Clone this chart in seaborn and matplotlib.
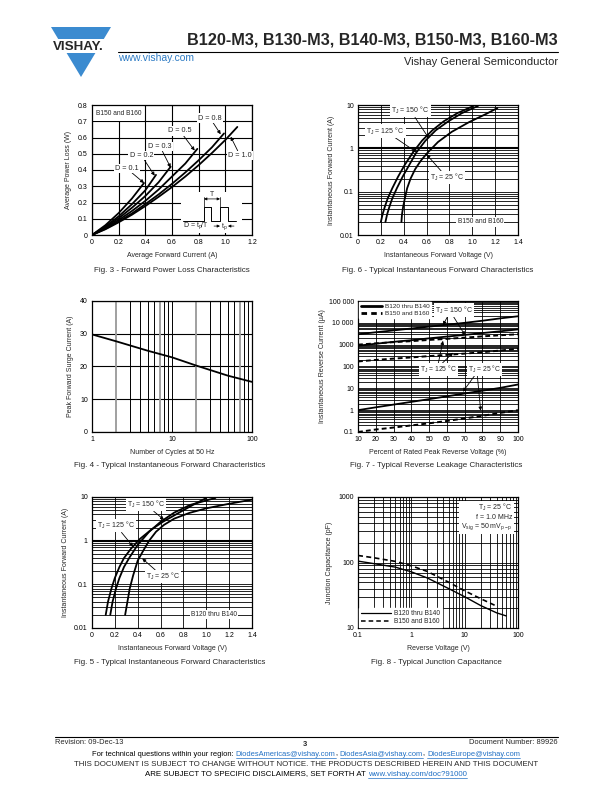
import numpy as np
import pandas as pd
import matplotlib
matplotlib.use('Agg')
import matplotlib.pyplot as plt
import seaborn as sns
from matplotlib.lines import Line2D
from matplotlib.patches import Polygon, Rectangle

sns.set_style('white')
plt.rcParams['font.family'] = ['Liberation Sans', 'DejaVu Sans']
plt.rcParams['mathtext.fontset'] = 'custom'
plt.rcParams['mathtext.rm'] = 'Liberation Sans'
plt.rcParams['mathtext.it'] = 'Liberation Sans'
plt.rcParams['axes.unicode_minus'] = False

# ---------------- data ----------------
# Fig 3 - power loss vs average forward current, per duty cycle D
d_labels = ['D = 0.1', 'D = 0.2', 'D = 0.3', 'D = 0.5', 'D = 0.8', 'D = 1.0']
d01_x = [0, 0.1, 0.2, 0.3, 0.39]
d01_y = [0, 0.06, 0.135, 0.225, 0.32]
d02_x = [0, 0.1, 0.2, 0.3, 0.4, 0.48]
d02_y = [0, 0.052, 0.115, 0.19, 0.275, 0.37]
d03_x = [0, 0.1, 0.2, 0.3, 0.4, 0.5, 0.59]
d03_y = [0, 0.047, 0.103, 0.168, 0.24, 0.325, 0.42]
d05_x = [0, 0.1, 0.2, 0.3, 0.4, 0.5, 0.6, 0.7, 0.79]
d05_y = [0, 0.042, 0.092, 0.148, 0.21, 0.28, 0.36, 0.44, 0.53]
d08_x = [0, 0.1, 0.2, 0.3, 0.4, 0.5, 0.6, 0.7, 0.8, 0.9, 0.99]
d08_y = [0, 0.038, 0.083, 0.133, 0.19, 0.25, 0.315, 0.385, 0.46, 0.54, 0.625]
d10_x = [0, 0.1, 0.2, 0.3, 0.4, 0.5, 0.6, 0.7, 0.8, 0.9, 1.0, 1.09]
d10_y = [0, 0.035, 0.078, 0.125, 0.178, 0.235, 0.295, 0.36, 0.43, 0.505, 0.585, 0.665]

# Fig 6 - forward characteristics B150/B160
f6_150_x = [0.20, 0.215, 0.235, 0.26, 0.30, 0.35, 0.41, 0.48, 0.56, 0.65, 0.75, 0.87, 1.01]
f6_150_y = [0.02, 0.03, 0.045, 0.07, 0.12, 0.22, 0.42, 0.8, 1.5, 2.6, 4.2, 6.5, 9.5]
f6_125_x = [0.24, 0.255, 0.275, 0.30, 0.34, 0.39, 0.45, 0.51, 0.59, 0.68, 0.79, 0.91, 1.05]
f6_125_y = [0.02, 0.03, 0.045, 0.07, 0.12, 0.22, 0.42, 0.8, 1.5, 2.6, 4.2, 6.5, 9.5]
f6_25_x = [0.38, 0.385, 0.395, 0.41, 0.43, 0.46, 0.50, 0.55, 0.61, 0.70, 0.82, 0.97, 1.12, 1.22]
f6_25_y = [0.02, 0.03, 0.045, 0.07, 0.12, 0.2, 0.33, 0.52, 0.8, 1.4, 2.4, 4.0, 6.2, 8.5]

# Fig 4 - peak forward surge current vs cycles
f4_cycles = [1, 2, 5, 10, 20, 50, 100]
f4_amps = [29.8, 27.7, 24.8, 22.8, 20.3, 17.2, 15.3]

# Fig 7 - reverse leakage
f7_pct = [10, 20, 30, 40, 50, 60, 70, 80, 90, 100]
f7_s150 = [3000, 3700, 4500, 5500, 6700, 8200, 10000, 12500, 16000, 20000]
f7_s125 = [900, 1100, 1350, 1600, 1950, 2350, 2800, 3400, 4100, 5000]
f7_d150 = [1000, 1150, 1300, 1450, 1650, 1850, 2100, 2400, 2700, 3000]
f7_d125 = [170, 200, 230, 260, 300, 340, 390, 450, 540, 650]
f7_s25 = [1.0, 1.35, 1.8, 2.4, 3.2, 4.3, 5.8, 7.8, 10.5, 15]
f7_d25 = [0.10, 0.13, 0.16, 0.20, 0.25, 0.32, 0.42, 0.55, 0.75, 1.0]

# Fig 5 - forward characteristics B120..B140
f5_150_x = [0.12, 0.14, 0.17, 0.2, 0.24, 0.28, 0.34, 0.42, 0.52, 0.62, 0.75, 0.87, 1.0]
f5_150_y = [0.02, 0.04, 0.08, 0.14, 0.25, 0.4, 0.65, 1.1, 1.8, 2.7, 4.2, 6.3, 9.5]
f5_125_x = [0.16, 0.18, 0.21, 0.24, 0.28, 0.33, 0.4, 0.5, 0.6, 0.72, 0.86, 1.08]
f5_125_y = [0.02, 0.04, 0.08, 0.14, 0.25, 0.42, 0.8, 1.6, 2.7, 4.4, 6.6, 9.5]
f5_25_x = [0.29, 0.31, 0.33, 0.36, 0.4, 0.45, 0.5, 0.56, 0.63, 0.72, 0.85, 1.0, 1.2, 1.4]
f5_25_y = [0.02, 0.04, 0.08, 0.16, 0.35, 0.6, 1.0, 1.6, 2.3, 3.2, 4.3, 5.5, 7.0, 8.7]

# Fig 8 - junction capacitance
f8_s_v = [0.1, 0.2, 0.5, 1, 2, 5, 10, 20, 40, 60]
f8_s_c = [105, 96, 85, 72, 58, 40, 30, 22, 17, 15.3]
f8_d_v = [0.1, 0.2, 0.5, 1, 2, 5, 10, 20, 40]
f8_d_c = [128, 118, 104, 89, 73, 50, 37, 28, 21.5]

# ---------------- layout ----------------
W, H = 612, 792
fig = plt.figure(figsize=(W / 100, H / 100), dpi=100)


def rect(l, r, t, b):
    return [l / W, 1 - b / H, (r - l) / W, (b - t) / H]


def P(x, y):
    return (x / W, 1 - y / H)


TFS = 5.0
LFS = 5.0
CAPFS = 5.8
LW = 1.3


def style(ax):
    for s in ax.spines.values():
        s.set_color('k')
        s.set_linewidth(0.9)
        s.set_visible(True)
    ax.tick_params(which='both', length=0, labelsize=TFS, colors='k', pad=3)
    ax.set_axisbelow(True)


def grid(ax, lw=0.6):
    ax.grid(which='both', color='k', lw=lw)


def curve(ax, x, y, **kw):
    d = dict(color='k', lw=LW, estimator=None, sort=False)
    d.update(kw)
    sns.lineplot(x=x, y=y, ax=ax, **d)


def caption(x, y, s):
    fig.text(*P(x, y), s, ha='center', va='center', fontsize=CAPFS)


APROPS = dict(arrowstyle='-|>', color='k', lw=0.6, mutation_scale=5, shrinkA=0, shrinkB=0)
BOX = dict(fc='white', ec='none', pad=0.8)

# ---------- Fig 3 ----------
ax3 = fig.add_axes(rect(92, 252, 105, 235))
style(ax3)
for xs, ys in [(d01_x, d01_y), (d02_x, d02_y), (d03_x, d03_y), (d05_x, d05_y), (d08_x, d08_y), (d10_x, d10_y)]:
    curve(ax3, xs, ys, zorder=3)
ax3.set_xlim(0, 1.2)
ax3.set_ylim(0, 0.8)
ax3.set_xticks(np.arange(0, 1.21, 0.2))
ax3.set_xticklabels(['0', '0.2', '0.4', '0.6', '0.8', '1.0', '1.2'])
ax3.set_yticks(np.arange(0, 0.81, 0.1))
ax3.set_yticklabels(['0', '0.1', '0.2', '0.3', '0.4', '0.5', '0.6', '0.7', '0.8'])
grid(ax3, 0.8)
ax3.set_xlabel('Average Forward Current (A)', fontsize=LFS, labelpad=4)
ax3.set_ylabel('Average Power Loss (W)', fontsize=LFS, labelpad=4)
ax3.add_patch(Rectangle((0.005, 0.7), 0.385, 0.095, fc='white', ec='none', zorder=1))
ax3.text(0.03, 0.75, 'B150 and B160', fontsize=4.8, va='center', zorder=4)
ax3.add_patch(Rectangle((0.665, 0.012), 0.46, 0.255, fc='white', ec='none', zorder=1))
lab3 = [(0.26, 0.41, 0.39, 0.32), (0.37, 0.49, 0.47, 0.365), (0.51, 0.545, 0.59, 0.415),
        (0.66, 0.64, 0.77, 0.52), (0.885, 0.72, 0.965, 0.62), (1.11, 0.49, 1.04, 0.605)]
for s, (tx, ty, ax_, ay_) in zip(d_labels, lab3):
    ax3.annotate(s, xy=(ax_, ay_), xytext=(tx, ty), fontsize=5.2, ha='center', va='center',
                 bbox=BOX, arrowprops=APROPS, zorder=5)
# pulse-train schematic
px = [0.68, 0.84, 0.84, 0.89, 0.89, 0.96, 0.96, 1.02, 1.02, 1.08]
py = [0.086, 0.086, 0.175, 0.175, 0.086, 0.086, 0.175, 0.175, 0.086, 0.086]
ax3.plot(px, py, color='k', lw=0.7, zorder=4)
ax3.plot([0.84, 0.84], [0.175, 0.235], color='k', lw=0.5, zorder=4)
ax3.plot([0.96, 0.96], [0.175, 0.235], color='k', lw=0.5, zorder=4)
ax3.annotate('', xy=(0.84, 0.222), xytext=(0.96, 0.222),
             arrowprops=dict(arrowstyle='<|-|>', color='k', lw=0.5, mutation_scale=4, shrinkA=0, shrinkB=0))
ax3.text(0.90, 0.252, 'T', fontsize=5, ha='center', va='center', zorder=4)
ax3.text(0.78, 0.055, r'D = t$_{\rm p}$/T', fontsize=5, ha='center', va='center', zorder=4)
ax3.annotate('', xy=(0.96, 0.055), xytext=(0.915, 0.055),
             arrowprops=dict(arrowstyle='-|>', color='k', lw=0.5, mutation_scale=4, shrinkA=0, shrinkB=0))
ax3.annotate('', xy=(1.02, 0.055), xytext=(1.065, 0.055),
             arrowprops=dict(arrowstyle='-|>', color='k', lw=0.5, mutation_scale=4, shrinkA=0, shrinkB=0))
ax3.text(0.99, 0.05, r't$_{\rm p}$', fontsize=5, ha='center', va='center', zorder=4)
caption(172, 271, 'Fig. 3 - Forward Power Loss Characteristics')


def fwd_axes(ax):
    ax.set_yscale('log')
    ax.set_xlim(0, 1.4)
    ax.set_ylim(0.01, 10)
    ax.set_xticks(np.arange(0, 1.41, 0.2))
    ax.set_xticklabels(['0', '0.2', '0.4', '0.6', '0.8', '1.0', '1.2', '1.4'])
    ax.set_yticks([0.01, 0.1, 1, 10])
    ax.set_yticklabels(['0.01', '0.1', '1', '10'])
    ax.set_yticks([m * 10.0 ** e for e in (-2, -1, 0) for m in range(2, 10)], minor=True)
    ax.yaxis.set_minor_formatter(matplotlib.ticker.NullFormatter())
    grid(ax, 0.6)
    ax.axhline(1, color='k', lw=1.5, zorder=1)
    ax.set_xlabel('Instantaneous Forward Voltage (V)', fontsize=LFS, labelpad=4)
    ax.set_ylabel('Instantaneous Forward Current (A)', fontsize=LFS, labelpad=4)


# ---------- Fig 6 ----------
ax6 = fig.add_axes(rect(358, 518, 105, 235))
style(ax6)
for xs, ys in [(f6_150_x, f6_150_y), (f6_125_x, f6_125_y), (f6_25_x, f6_25_y)]:
    curve(ax6, xs, ys, zorder=3)
fwd_axes(ax6)
ax6.annotate(r'T$_{\rm J}$ = 150 °C', xy=(0.62, 1.7), xytext=(0.46, 7.4), fontsize=5, ha='center',
             va='center', bbox=BOX, arrowprops=APROPS, zorder=5)
ax6.annotate(r'T$_{\rm J}$ = 125 °C', xy=(0.51, 0.82), xytext=(0.24, 2.5), fontsize=5, ha='center',
             va='center', bbox=BOX, arrowprops=APROPS, zorder=5)
ax6.annotate(r'T$_{\rm J}$ = 25 °C', xy=(0.60, 0.72), xytext=(0.78, 0.21), fontsize=5, ha='center',
             va='center', bbox=BOX, arrowprops=APROPS, zorder=5)
ax6.text(1.07, 0.02, 'B150 and B160', fontsize=4.8, ha='center', va='center', bbox=BOX, zorder=5)
caption(438, 271, 'Fig. 6 - Typical Instantaneous Forward Characteristics')

# ---------- Fig 4 ----------
ax4 = fig.add_axes(rect(92, 252, 301, 432))
style(ax4)
ax4.set_xscale('log')
curve(ax4, f4_cycles, f4_amps, zorder=3)
ax4.set_xlim(1, 100)
ax4.set_ylim(0, 40)
ax4.set_xticks([1, 10, 100])
ax4.set_xticklabels(['1', '10', '100'])
ax4.set_yticks([0, 10, 20, 30, 40])
ax4.set_yticklabels(['0', '10', '20', '30', '40'])
ax4.xaxis.set_minor_locator(matplotlib.ticker.NullLocator())
ax4.grid(axis='y', color='k', lw=0.8)
for e in (1, 10):
    for m in range(2, 10):
        c = '#999999' if m in (2, 7) else 'k'
        w = 1.3 if m in (2, 7) else 0.7
        ax4.axvline(m * e, color=c, lw=w, zorder=1)
ax4.axvline(10, color='k', lw=0.7, zorder=1)
ax4.set_xlabel('Number of Cycles at 50 Hz', fontsize=LFS, labelpad=4)
ax4.set_ylabel('Peak Forward Surge Current (A)', fontsize=LFS, labelpad=4)
caption(170, 466, 'Fig. 4 - Typical Instantaneous Forward Characteristics')

# ---------- Fig 7 ----------
ax7 = fig.add_axes(rect(358, 518, 301, 432))
style(ax7)
ax7.set_yscale('log')
dash = (0, (2.5, 1.6))
curve(ax7, f7_pct, f7_s150, zorder=3)
curve(ax7, f7_pct, f7_s125, zorder=3)
curve(ax7, f7_pct, f7_s25, zorder=3)
curve(ax7, f7_pct, f7_d150, zorder=3, linestyle=dash, lw=1.4)
curve(ax7, f7_pct, f7_d125, zorder=3, linestyle=dash, lw=1.4)
curve(ax7, f7_pct, f7_d25, zorder=3, linestyle=dash, lw=1.4)
ax7.set_xlim(10, 100)
ax7.set_ylim(0.1, 100000)
ax7.set_xticks(list(range(10, 101, 10)))
ax7.set_xticklabels([str(v) for v in range(10, 101, 10)])
ax7.set_yticks([0.1, 1, 10, 100, 1000, 10000, 100000])
ax7.set_yticklabels(['0.1', '1', '10', '100', '1000', '10 000', '100 000'])
ax7.set_yticks([m * 10.0 ** e for e in range(-1, 5) for m in range(2, 10)], minor=True)
ax7.yaxis.set_minor_formatter(matplotlib.ticker.NullFormatter())
grid(ax7, 0.6)
ax7.set_xlabel('Percent of Rated Peak Reverse Voltage (%)', fontsize=LFS, labelpad=4)
ax7.set_ylabel('Instantaneous Reverse Current (µA)', fontsize=LFS, labelpad=2)
h7 = [Line2D([], [], color='k', lw=2.0), Line2D([], [], color='k', lw=2.0, linestyle=(0, (2, 1.5)))]
lg = ax7.legend(h7, ['B120 thru B140', 'B150 and B160'], loc='upper left', fontsize=4.6,
                frameon=True, fancybox=False, framealpha=1, edgecolor='white', handlelength=3.3,
                borderaxespad=0.15, borderpad=0.3, labelspacing=0.15, handletextpad=0.4)
lg.set_zorder(6)
ax7.text(64, 38000, r'T$_{\rm J}$ = 150 °C', fontsize=5, ha='center', va='center', bbox=BOX, zorder=6)
ax7.annotate('', xy=(57.8, 7900), xytext=(61, 24000), arrowprops=APROPS, zorder=5)
ax7.annotate('', xy=(70.2, 2700), xytext=(63, 24000), arrowprops=APROPS, zorder=5)
ax7.text(55.5, 75, r'T$_{\rm J}$ = 125 °C', fontsize=4.9, ha='center', va='center', bbox=BOX, zorder=6)
ax7.annotate('', xy=(57.8, 1500), xytext=(55, 120), arrowprops=APROPS, zorder=5)
ax7.annotate('', xy=(63.5, 430), xytext=(56.5, 120), arrowprops=APROPS, zorder=5)
ax7.text(81, 75, r'T$_{\rm J}$ = 25 °C', fontsize=4.9, ha='center', va='center', bbox=BOX, zorder=6)
ax7.annotate('', xy=(69, 7.0), xytext=(76.5, 48), arrowprops=APROPS, zorder=5)
ax7.annotate('', xy=(79, 0.95), xytext=(77, 48), arrowprops=APROPS, zorder=5)
caption(436, 466, 'Fig. 7 - Typical Reverse Leakage Characteristics')

# ---------- Fig 5 ----------
ax5 = fig.add_axes(rect(92, 252, 497, 628))
style(ax5)
for xs, ys in [(f5_150_x, f5_150_y), (f5_125_x, f5_125_y), (f5_25_x, f5_25_y)]:
    curve(ax5, xs, ys, zorder=3)
fwd_axes(ax5)
ax5.annotate(r'T$_{\rm J}$ = 150 °C', xy=(0.63, 3.0), xytext=(0.47, 6.7), fontsize=5, ha='center',
             va='center', bbox=BOX, arrowprops=APROPS, zorder=5)
ax5.annotate(r'T$_{\rm J}$ = 125 °C', xy=(0.36, 0.73), xytext=(0.21, 2.2), fontsize=5, ha='center',
             va='center', bbox=BOX, arrowprops=APROPS, zorder=5)
ax5.annotate(r'T$_{\rm J}$ = 25 °C', xy=(0.44, 0.39), xytext=(0.62, 0.15), fontsize=5, ha='center',
             va='center', bbox=BOX, arrowprops=APROPS, zorder=5)
ax5.text(1.07, 0.02, 'B120 thru B140', fontsize=4.8, ha='center', va='center', bbox=BOX, zorder=5)
caption(170, 662, 'Fig. 5 - Typical Instantaneous Forward Characteristics')

# ---------- Fig 8 ----------
ax8 = fig.add_axes(rect(358, 518, 497, 628))
style(ax8)
ax8.set_xscale('log')
ax8.set_yscale('log')
curve(ax8, f8_s_v, f8_s_c, zorder=3, lw=1.0)
curve(ax8, f8_d_v, f8_d_c, zorder=3, lw=1.2, linestyle=(0, (3, 2)))
ax8.set_xlim(0.1, 100)
ax8.set_ylim(10, 1000)
ax8.set_xticks([0.1, 1, 10, 100])
ax8.set_xticklabels(['0.1', '1', '10', '100'])
ax8.set_yticks([10, 100, 1000])
ax8.set_yticklabels(['10', '100', '1000'])
ax8.set_xticks([m * 10.0 ** e for e in (-1, 0, 1) for m in range(2, 10)], minor=True)
ax8.set_yticks([m * 10.0 ** e for e in (1, 2) for m in range(2, 10)], minor=True)
ax8.xaxis.set_minor_formatter(matplotlib.ticker.NullFormatter())
ax8.yaxis.set_minor_formatter(matplotlib.ticker.NullFormatter())
grid(ax8, 0.6)
ax8.set_xlabel('Reverse Voltage (V)', fontsize=LFS, labelpad=4)
ax8.set_ylabel('Junction Capacitance (pF)', fontsize=LFS, labelpad=4)
h8 = [Line2D([], [], color='k', lw=0.9), Line2D([], [], color='k', lw=1.1, linestyle=(0, (3, 2)))]
lg8 = ax8.legend(h8, ['B120 thru B140', 'B150 and B160'], loc='lower left', fontsize=4.8,
                 frameon=True, fancybox=False, framealpha=1, edgecolor='white', handlelength=4.5,
                 borderaxespad=0.15, borderpad=0.3, labelspacing=0.15, handletextpad=0.5)
lg8.set_zorder(6)
ax8.text(0.965, 0.965, 'T$_{\\rm J}$ = 25 °C\nf = 1.0 MHz\nV$_{\\rm sig}$ = 50 mV$_{\\rm p-p}$',
         transform=ax8.transAxes, fontsize=5, ha='right', va='top', multialignment='right',
         linespacing=1.15, bbox=dict(fc='white', ec='none', pad=1.5), zorder=6)
caption(436, 662, 'Fig. 8 - Typical Junction Capacitance')

# ---------------- header ----------------
BLUE = '#3b8bd0'
fig.add_artist(Polygon([P(51, 27), P(111, 27), P(81, 77)], closed=True, fc=BLUE, ec='none'))
fig.add_artist(Rectangle(P(40, 53), 80 / W, 13.5 / H, fc='white', ec='none'))
fig.text(*P(78, 47), 'VISHAY.', fontsize=9.6, fontweight='bold', ha='center', va='center')
fig.text(*P(558, 40), 'B120-M3, B130-M3, B140-M3, B150-M3, B160-M3', fontsize=11.7,
         fontweight='bold', ha='right', va='center')
fig.add_artist(Line2D([118 / W, 558 / W], [1 - 51.5 / H] * 2, color='k', lw=0.8))
fig.text(*P(118, 58), 'www.vishay.com', fontsize=7.5, color='#2d7bc4', ha='left', va='center')
fig.text(*P(558, 62), 'Vishay General Semiconductor', fontsize=8, ha='right', va='center')

# ---------------- footer ----------------
FFS = 5.4
CFS = 5.7
fig.add_artist(Line2D([55 / W, 558 / W], [1 - 737 / H] * 2, color='k', lw=0.8))
fig.text(*P(55, 743), 'Revision: 09-Dec-13', fontsize=FFS, ha='left', va='center')
fig.text(*P(305, 744), '3', fontsize=FFS, fontweight='bold', ha='center', va='center')
fig.text(*P(558, 743), 'Document Number: 89926', fontsize=FFS, ha='right', va='center')

LINK = '#1f6fc4'
renderer = fig.canvas.get_renderer()


def width_of(s, fs):
    t = fig.text(0, 0, s + '|', fontsize=fs)
    t2 = fig.text(0, 0, '|', fontsize=fs)
    w = t.get_window_extent(renderer).width - t2.get_window_extent(renderer).width
    t.remove()
    t2.remove()
    return w


def pieces(y, parts, fs, cx=306):
    ws = [width_of(s, fs) for s, _ in parts]
    x0 = cx - sum(ws) / 2
    for (s, c), w in zip(parts, ws):
        fig.text(*P(x0, y), s, fontsize=fs, color=c, ha='left', va='center')
        if c != 'k':
            fig.add_artist(Line2D([x0 / W, (x0 + w) / W], [1 - (y + 3.6) / H] * 2, color=c, lw=0.5))
        x0 += w


pieces(754, [('For technical questions within your region: ', 'k'), ('DiodesAmericas@vishay.com', LINK),
             (', ', 'k'), ('DiodesAsia@vishay.com', LINK), (', ', 'k'), ('DiodesEurope@vishay.com', LINK)], FFS)
fig.text(*P(306, 765), 'THIS DOCUMENT IS SUBJECT TO CHANGE WITHOUT NOTICE. THE PRODUCTS DESCRIBED HEREIN AND THIS DOCUMENT',
         fontsize=CFS, ha='center', va='center')
pieces(774, [('ARE SUBJECT TO SPECIFIC DISCLAIMERS, SET FORTH AT ', 'k'), ('www.vishay.com/doc?91000', LINK)], CFS)

fig.savefig('out.png', dpi=100)
